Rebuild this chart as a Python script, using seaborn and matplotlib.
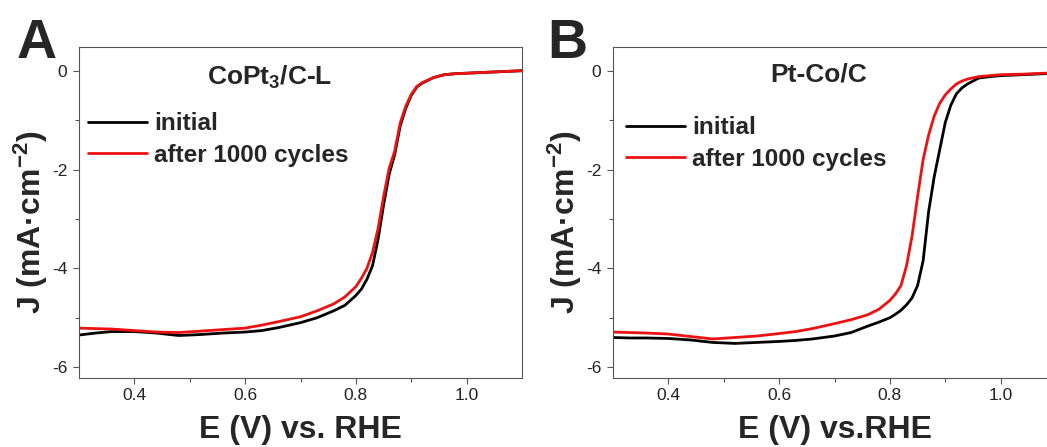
import numpy as np
import pandas as pd
import seaborn as sns
import matplotlib
matplotlib.use("Agg")
import matplotlib.pyplot as plt

# ---------------- data ----------------
E_A = [0.30, 0.33, 0.36, 0.40, 0.44, 0.48, 0.52, 0.56, 0.60, 0.63, 0.66, 0.70,
       0.73, 0.76, 0.78, 0.80, 0.81, 0.82, 0.83, 0.84, 0.85, 0.86, 0.87, 0.88,
       0.89, 0.90, 0.91, 0.92, 0.94, 0.96, 0.98, 1.00, 1.04, 1.08, 1.10]
J_A_initial = [-5.35, -5.31, -5.28, -5.28, -5.31, -5.36, -5.34, -5.31, -5.29, -5.26, -5.20, -5.10,
               -5.00, -4.86, -4.75, -4.55, -4.42, -4.22, -3.95, -3.42, -2.72, -2.10, -1.70, -1.12,
               -0.76, -0.50, -0.33, -0.25, -0.14, -0.08, -0.06, -0.05, -0.03, -0.01, 0.00]
J_A_after = [-5.21, -5.22, -5.23, -5.26, -5.29, -5.30, -5.27, -5.24, -5.21, -5.15, -5.08, -4.98,
             -4.86, -4.72, -4.58, -4.37, -4.20, -4.00, -3.68, -3.20, -2.55, -1.98, -1.63, -1.06,
             -0.72, -0.48, -0.32, -0.24, -0.14, -0.08, -0.06, -0.05, -0.03, -0.01, 0.00]

E_B = [0.30, 0.33, 0.36, 0.40, 0.44, 0.48, 0.52, 0.56, 0.60, 0.63, 0.66, 0.70,
       0.73, 0.76, 0.78, 0.80, 0.81, 0.82, 0.83, 0.84, 0.85, 0.86, 0.87, 0.88,
       0.89, 0.90, 0.91, 0.92, 0.93, 0.94, 0.96, 0.98, 1.00, 1.04, 1.08, 1.10]
J_B_initial = [-5.40, -5.41, -5.41, -5.42, -5.45, -5.50, -5.52, -5.50, -5.48, -5.46, -5.43, -5.37,
               -5.30, -5.17, -5.09, -5.00, -4.93, -4.85, -4.74, -4.60, -4.35, -3.85, -2.85, -2.15,
               -1.60, -1.05, -0.70, -0.47, -0.35, -0.27, -0.15, -0.12, -0.10, -0.08, -0.06, -0.05]
J_B_after = [-5.29, -5.30, -5.31, -5.33, -5.38, -5.43, -5.40, -5.37, -5.32, -5.28, -5.22, -5.12,
             -5.04, -4.94, -4.83, -4.65, -4.52, -4.35, -3.95, -3.35, -2.55, -1.80, -1.30, -0.92,
             -0.66, -0.49, -0.37, -0.27, -0.21, -0.17, -0.12, -0.10, -0.08, -0.07, -0.05, -0.05]

series_labels = ["initial", "after 1000 cycles"]
panel_titles = [r"CoPt$_{\mathbf{3}}$/C-L", "Pt-Co/C"]
panel_letters = ["A", "B"]
x_labels = ["E (V) vs. RHE", "E (V) vs.RHE"]
y_label = r"J (mA·cm$^{\mathbf{-2}}$)"
x_ticks = [0.4, 0.6, 0.8, 1.0]
x_ticklabels = ["0.4", "0.6", "0.8", "1.0"]
y_ticks = [-6, -4, -2, 0]
y_ticklabels = ["-6", "-4", "-2", "0"]

# ---------------- style ----------------
sns.set_style("white")
plt.rcParams["font.family"] = ["Liberation Sans", "DejaVu Sans"]
plt.rcParams["mathtext.fontset"] = "custom"
plt.rcParams["mathtext.rm"] = "Liberation Sans"
plt.rcParams["mathtext.bf"] = "Liberation Sans:bold"
plt.rcParams["mathtext.default"] = "bf"

palette = {"initial": "#000000", "after 1000 cycles": "#ee1111"}

fig = plt.figure(figsize=(10.47, 4.47), dpi=100)
W, H = 1047.0, 447.0
ax_w = 443 / W
ax_h = 331 / H
bottom = (H - 378) / H
axA = fig.add_axes([79 / W, bottom, ax_w, ax_h])
axB = fig.add_axes([613 / W, bottom, ax_w, ax_h])


def make_df(E, j1, j2):
    return pd.concat([
        pd.DataFrame({"E": E, "J": j1, "series": series_labels[0]}),
        pd.DataFrame({"E": E, "J": j2, "series": series_labels[1]}),
    ], ignore_index=True)


dfs = [make_df(E_A, J_A_initial, J_A_after), make_df(E_B, J_B_initial, J_B_after)]
leg_anchor = [(0.021, 0.803), (0.030, 0.791)]
title_pos = [(0.431, 0.885), (0.465, 0.895)]
letter_pos = [(17 / W, (H - 58) / H), (547 / W, (H - 58) / H)]

for i, (ax, df) in enumerate(zip([axA, axB], dfs)):
    sns.lineplot(data=df, x="E", y="J", hue="series", palette=palette,
                 hue_order=series_labels, sort=False, estimator=None,
                 linewidth=2.0, ax=ax)
    ax.set_xlim(0.3, 1.1)
    ax.set_ylim(-6.22, 0.48)
    ax.set_xticks(x_ticks)
    ax.set_xticklabels(x_ticklabels)
    ax.set_yticks(y_ticks)
    ax.set_yticklabels(y_ticklabels)
    ax.set_xticks([0.5, 0.7, 0.9], minor=True)
    ax.set_yticks([-5, -3, -1], minor=True)
    ax.tick_params(axis="both", which="major", direction="out", length=4.5,
                   width=0.8, color="#555555", labelsize=12.5,
                   labelcolor="#222222", bottom=True, left=True)
    ax.tick_params(axis="x", which="major", pad=2.5)
    ax.tick_params(axis="y", which="major", pad=4.0)
    ax.tick_params(axis="both", which="minor", direction="out", length=2.6,
                   width=0.8, color="#555555", bottom=True, left=True)
    for sp in ax.spines.values():
        sp.set_color("#555555")
        sp.set_linewidth(0.8)
    ax.set_xlabel(x_labels[i], fontsize=23, fontweight="bold", labelpad=9)
    ax.set_ylabel(y_label, fontsize=23, fontweight="bold")
    ax.yaxis.set_label_coords(-0.066, 0.47)
    handles, labels = ax.get_legend_handles_labels()
    ax.legend(handles, labels, loc="upper left", bbox_to_anchor=leg_anchor[i],
              frameon=False, borderpad=0, borderaxespad=0, handlelength=2.4,
              handletextpad=0.3, labelspacing=0.36,
              prop={"weight": "bold", "size": 17.5})
    ax.text(title_pos[i][0], title_pos[i][1], panel_titles[i],
            transform=ax.transAxes, ha="center", va="baseline",
            fontsize=19, fontweight="bold")
    fig.text(letter_pos[i][0], letter_pos[i][1], panel_letters[i],
             ha="left", va="baseline", fontsize=40, fontweight="bold")

fig.savefig("out.png", dpi=100)
